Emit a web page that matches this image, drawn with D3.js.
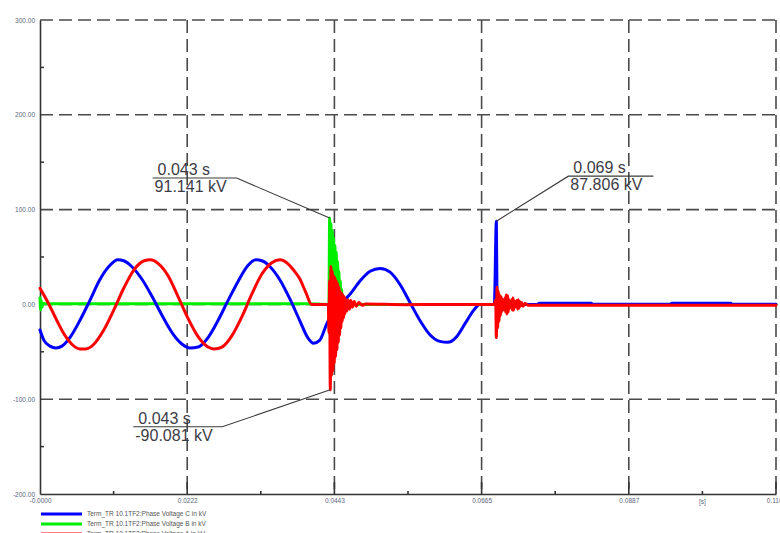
<!DOCTYPE html>
<html><head><meta charset="utf-8">
<script src="https://cdn.jsdelivr.net/npm/d3@7"></script>
<style>body{margin:0;background:#fff}svg{display:block}</style>
</head><body><svg id="c" width="780" height="533"></svg>
<script>
// ---------- DATA ----------
const xTickValues = [0, 0.02216, 0.04432, 0.06648, 0.08864, 0.1108];
const xTickLabels = ["-0.0000", "0.0222", "0.0443", "0.0665", "0.0887", "0.1108"];
const xMinorTicks = [0.01108, 0.03324, 0.0554, 0.07756, 0.09972];
const yTickValues = [300, 200, 100, 0, -100, -200];
const yTickLabels = ["300.00", "200.00", "100.00", "0.00", "-100.00", "-200.00"];
const yMinorTicks = [250, 150, 50, -50, -150];
const xUnitLabel = "[s]";
const xUnitAt = 0.09972;

const legendNames = [
  "Term_TR 10.1TF2:Phase Voltage C in kV",
  "Term_TR 10.1TF2:Phase Voltage B in kV",
  "Term_TR 10.1TF2:Phase Voltage A in kV"
];

// Phase C (blue)
const tC = [0,0.0006,0.0015,0.0024,0.0033,0.0045,0.0060,0.0075,0.0090,0.0105,0.0117,0.0126,0.0138,0.0154,0.0169,0.0184,0.0199,0.0214,0.0226,0.0238,0.0253,0.0268,0.0283,0.0298,0.0313,0.0325,0.0334,0.0346,0.0361,0.0376,0.0391,0.0403,0.0412,0.0421,0.0432,0.0443,0.0455,0.0467,0.0482,0.0497,0.0512,0.0527,0.0542,0.0557,0.0572,0.0587,0.0602,0.0614,0.0626,0.0641,0.0653,0.0662,0.0684,0.0687,0.0688,0.0690,0.0750,0.0751,0.0830,0.0831,0.0950,0.0951,0.1040,0.1041,0.1108];
const vC = [-27,-38,-44,-46,-44,-35,-17,4,26,41,47,46,40,26,8,-12,-30,-42,-46,-45,-35,-17,4,24,41,47,46,40,26,6,-17,-35,-41,-38,-20,-6,2,11,25,35,38,34,21,2,-17,-32,-39,-40,-35,-19,-6,0,0,87.806,10,0,0,1.3,1.3,0.2,0.2,1.3,1.3,0.2,0.2];

// Phase B (green)
const tB = [0,0.0001,0.0002,0.0003,0.0004,0.0008,0.0100,0.0200,0.0300,0.0400,0.0435,
  0.0436,0.0437,0.0438,0.0439,0.0440,0.0441,0.0442,0.0443,0.0444,0.0445,0.0446,0.0447,0.0448,0.0449,0.0450,0.0451,0.0452,0.0453,0.0454,0.0455,0.0456,0.0457,0.0458,0.0460,0.0463,0.0466,0.0470,
  0.0550,0.0684,0.0686,0.0688,0.0900,0.1108];
const vB = [7,-6,4,-3,1,0.8,0.8,0.8,0.8,0.8,0,
  91.141,0,85,-3,78,2,70,-2,62,3,55,0,45,2,35,0,25,2,16,0,10,1,6,2,3,0.5,0,
  0,0,2,0,0,0];

// Phase A (red)
const tA = [0,0.0012,0.0024,0.0036,0.0048,0.0060,0.0069,0.0081,0.0096,0.0111,0.0126,0.0141,0.0157,0.0166,0.0178,0.0193,0.0208,0.0223,0.0238,0.0253,0.0262,0.0274,0.0289,0.0304,0.0319,0.0334,0.0349,0.0361,0.0373,0.0382,0.0391,0.0400,0.0409,0.0434,
  0.0435,0.0436,0.0437,0.0438,0.0439,0.0440,0.0441,0.0442,0.0443,0.0444,0.0445,0.0446,0.0447,0.0448,0.0449,0.0450,0.0451,0.0452,0.0453,0.0454,0.0455,0.0456,0.0457,0.0458,0.0459,0.0460,0.0462,0.0464,0.0466,0.0468,0.0470,0.0473,0.0476,0.0480,0.0485,0.0490,0.0550,0.0600,0.0684,
  0.0686,0.0687,0.0688,0.0689,0.0690,0.0691,0.0692,0.0693,0.0694,0.0695,0.0696,0.0697,0.0698,0.0699,0.0700,0.0701,0.0702,0.0703,0.0704,0.0705,0.0706,0.0707,0.0708,0.0709,0.0710,0.0711,0.0712,0.0713,0.0714,0.0715,0.0716,0.0717,0.0718,0.0719,0.0720,0.0721,0.0722,0.0723,0.0725,0.0727,0.0730,0.0735,0.0740,0.1108];
const vA = [17,2,-15,-31,-42,-47,-47,-42,-27,-6,17,36,46,47,43,30,8,-15,-34,-45,-47,-45,-33,-13,11,32,44,47,43,36,27,13,0,0,
  -30,25,-90.081,40,-75,35,-70,30,-62,28,-55,25,-48,22,-40,18,-32,14,-25,12,-18,10,-14,8,-10,6,-7,5,-5,4,-3,3,-2,2,-1,0.5,-0.3,0,0,
  5,-35,18,-25,14,-18,10,-12,8,-8,6,-6,5,-5,7,-8,10,-10,9,-8,5,-4,3,-3,5,-6,7,-6,4,-3,2,-2,4,-5,5,-4,3,-2,2,-2,1,-1,-0.8,-0.8];

// Callouts
const annT = [0.0436, 0.0437, 0.0687];
const annV = [91.141, -90.081, 87.806];
const annTimeLabels = ["0.043 s", "0.043 s", "0.069 s"];
const annValueLabels = ["91.141 kV", "-90.081 kV", "87.806 kV"];

// ---------- LAYOUT ----------
const svg = d3.select("#c");
const x = d3.scaleLinear().domain([0, 0.1108]).range([40, 776]);
const y = d3.scaleLinear().domain([-200, 300]).range([494, 20]);
const colors = ["#0000ff", "#00ee00", "#ff0000"];
const gridColor = "#4a4a4a";

// grid
const grid = svg.append("g");
grid.selectAll("line.h").data(yTickValues.filter(v => v !== -200)).join("line")
  .attr("x1", x(0)).attr("x2", x(0.1108))
  .attr("y1", d => y(d)).attr("y2", d => y(d))
  .attr("stroke", gridColor).attr("stroke-width", 1.6).attr("stroke-dasharray", "13,6");
grid.selectAll("line.v").data(xTickValues.slice(1)).join("line")
  .attr("x1", d => x(d)).attr("x2", d => x(d))
  .attr("y1", y(300)).attr("y2", y(-200))
  .attr("stroke", gridColor).attr("stroke-width", 1.6).attr("stroke-dasharray", "13,6");

// axes
const axisColor = "#333";
const yAxis = d3.axisLeft(y).tickValues(yTickValues).tickSize(0).tickFormat((d, i) => yTickLabels[i]);
const gy = svg.append("g").attr("transform", `translate(${x(0)},0)`).call(yAxis);
gy.select(".domain").attr("stroke", axisColor).attr("stroke-width", 1.6);
gy.selectAll("text").attr("x", -5).attr("fill", "#5a6480").style("font", "6.5px Arial, 'Liberation Sans', sans-serif");
svg.append("g").selectAll("line").data(yMinorTicks).join("line")
  .attr("x1", x(0)).attr("x2", x(0) + 4).attr("y1", d => y(d)).attr("y2", d => y(d))
  .attr("stroke", axisColor).attr("stroke-width", 1.5);

const xAxis = d3.axisBottom(x).tickValues(xTickValues).tickSize(0).tickFormat((d, i) => xTickLabels[i]);
const gx = svg.append("g").attr("transform", `translate(0,${y(-200)})`).call(xAxis);
gx.select(".domain").attr("stroke", axisColor).attr("stroke-width", 1.6);
gx.selectAll("text").attr("y", 4).attr("fill", "#5a6480").style("font", "6.5px Arial, 'Liberation Sans', sans-serif");
svg.append("g").selectAll("line").data(xTickValues.slice(1)).join("line")
  .attr("x1", d => x(d)).attr("x2", d => x(d)).attr("y1", y(-200)).attr("y2", y(-200) - 12)
  .attr("stroke", axisColor).attr("stroke-width", 1.6);
svg.append("g").selectAll("line").data(xMinorTicks).join("line")
  .attr("x1", d => x(d)).attr("x2", d => x(d)).attr("y1", y(-200)).attr("y2", y(-200) - 3)
  .attr("stroke", axisColor).attr("stroke-width", 1.6);
svg.append("text").attr("x", x(xUnitAt)).attr("y", y(-200) + 10).attr("text-anchor", "middle")
  .attr("fill", "#5a6480").style("font", "6.5px Arial, 'Liberation Sans', sans-serif").text(xUnitLabel);

// traces
const line = d3.line().x(d => x(d[0])).y(d => y(d[1])).curve(d3.curveMonotoneX);
const series = [
  { t: tB, v: vB, c: colors[1] },
  { t: tC, v: vC, c: colors[0] },
  { t: tA, v: vA, c: colors[2] }
];
series.forEach(s => {
  svg.append("path").datum(s.t.map((t, i) => [t, s.v[i]]))
    .attr("d", line).attr("fill", "none").attr("stroke", s.c)
    .attr("stroke-width", 3).attr("stroke-linejoin", "round").attr("stroke-linecap", "round");
});

// callouts (offsets are layout)
const callouts = [
  { dx: -93, dy: -40, bar: -84 },
  { dx: -108, dy: 37, bar: -89 },
  { dx: 72, dy: -45, bar: 85 }
];
const annFont = "16px Arial, 'Liberation Sans', sans-serif";
annT.forEach((t, i) => {
  const px = x(t), py = y(annV[i]);
  const o = callouts[i];
  const ex = px + o.dx, ey = py + o.dy;
  const bx2 = ex + o.bar;
  const left = Math.min(ex, bx2), right = Math.max(ex, bx2);
  const g = svg.append("g");
  g.append("polyline").attr("points", `${px},${py} ${ex},${ey} ${bx2},${ey}`)
    .attr("fill", "none").attr("stroke", "#3a3a3a").attr("stroke-width", 1.1);
  g.append("text").attr("x", left + 5).attr("y", ey - 3).attr("fill", "#3c3c46")
    .style("font", annFont).text(annTimeLabels[i]);
  g.append("text").attr("x", left + 2).attr("y", ey + 14).attr("fill", "#3c3c46")
    .style("font", annFont).text(annValueLabels[i]);
});

// legend
const lg = svg.append("g");
legendNames.forEach((n, i) => {
  const yy = 514 + i * 10;
  lg.append("line").attr("x1", 41).attr("x2", 82).attr("y1", yy).attr("y2", yy)
    .attr("stroke", colors[i]).attr("stroke-width", 3);
  lg.append("text").attr("x", 87).attr("y", yy + 2).attr("fill", "#555")
    .style("font", "6.5px Arial, 'Liberation Sans', sans-serif").text(n);
});
</script></body></html>
